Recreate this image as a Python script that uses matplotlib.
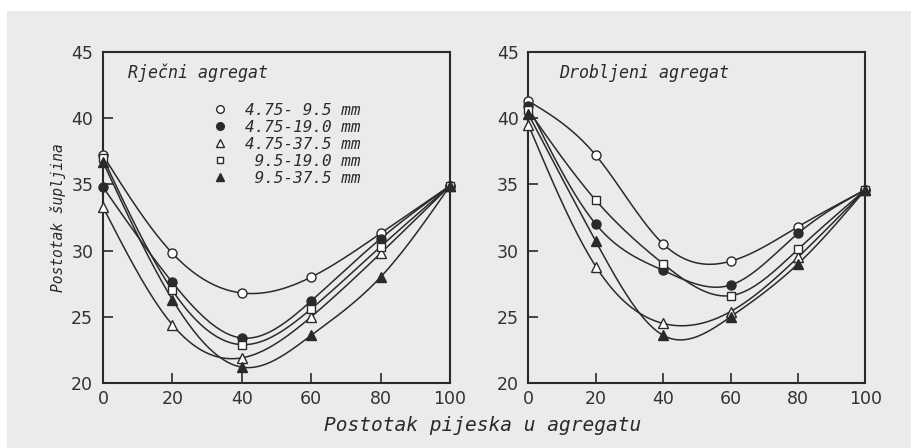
import numpy as np
import matplotlib
matplotlib.use("Agg")
import matplotlib.pyplot as plt
from matplotlib.lines import Line2D
from matplotlib.patches import Rectangle

# ---------------- data ----------------
x_pct = [0, 20, 40, 60, 80, 100]
series_labels = ["4.75- 9.5 mm", "4.75-19.0 mm", "4.75-37.5 mm", " 9.5-19.0 mm", " 9.5-37.5 mm"]
series_markers = ["o", "o", "^", "s", "^"]
series_filled = [False, True, False, False, True]

# Rječni agregat (river aggregate)
river_a = [37.2, 29.8, 26.8, 28.0, 31.3, 34.9]   # 4.75-9.5
river_b = [34.8, 27.6, 23.4, 26.2, 30.9, 34.9]   # 4.75-19.0
river_c = [33.3, 24.4, 21.9, 25.0, 29.8, 34.9]   # 4.75-37.5
river_d = [37.0, 27.0, 22.9, 25.6, 30.3, 34.9]   # 9.5-19.0
river_e = [36.7, 26.3, 21.2, 23.6, 28.0, 34.9]   # 9.5-37.5

# Drobljeni agregat (crushed aggregate)
crush_a = [41.3, 37.2, 30.5, 29.2, 31.8, 34.6]
crush_b = [40.9, 32.0, 28.5, 27.4, 31.3, 34.6]
crush_c = [39.5, 28.8, 24.5, 25.4, 29.5, 34.6]
crush_d = [40.6, 33.8, 29.0, 26.6, 30.1, 34.6]
crush_e = [40.3, 30.7, 23.6, 25.0, 29.0, 34.6]

river = [river_a, river_b, river_c, river_d, river_e]
crushed = [crush_a, crush_b, crush_c, crush_d, crush_e]

x_ticks = [0, 20, 40, 60, 80, 100]
y_ticks = [20, 25, 30, 35, 40, 45]

BG = "#ebebeb"
INK = "#2a2a2a"


def natural_spline(x, y, n=200):
    x = np.asarray(x, float)
    y = np.asarray(y, float)
    m = len(x)
    h = np.diff(x)
    A = np.zeros((m, m))
    r = np.zeros(m)
    A[0, 0] = A[-1, -1] = 1
    for i in range(1, m - 1):
        A[i, i - 1] = h[i - 1]
        A[i, i] = 2 * (h[i - 1] + h[i])
        A[i, i + 1] = h[i]
        r[i] = 3 * ((y[i + 1] - y[i]) / h[i] - (y[i] - y[i - 1]) / h[i - 1])
    c = np.linalg.solve(A, r)
    b = np.zeros(m - 1)
    d = np.zeros(m - 1)
    for i in range(m - 1):
        b[i] = (y[i + 1] - y[i]) / h[i] - h[i] * (2 * c[i] + c[i + 1]) / 3
        d[i] = (c[i + 1] - c[i]) / (3 * h[i])
    xs = np.linspace(x[0], x[-1], n)
    idx = np.clip(np.searchsorted(x, xs, side="right") - 1, 0, m - 2)
    dx = xs - x[idx]
    ys = y[idx] + b[idx] * dx + c[idx] * dx ** 2 + d[idx] * dx ** 3
    return xs, ys


fig = plt.figure(figsize=(9.11, 4.48), dpi=100, facecolor="white")
fig.patches.append(Rectangle((7 / 911, 0), 1, (448 - 11) / 448, transform=fig.transFigure,
                             facecolor=BG, edgecolor="none", zorder=-10))

ax1 = fig.add_axes([0.113, 0.145, 0.381, 0.739])
ax2 = fig.add_axes([0.580, 0.145, 0.370, 0.739])

mono_it = dict(family="DejaVu Sans Mono", style="italic")

for ax, data, title in [(ax1, river, "Rječni agregat"), (ax2, crushed, "Drobljeni agregat")]:
    ax.set_facecolor(BG)
    for vals, mk, filled in zip(data, series_markers, series_filled):
        xs, ys = natural_spline(x_pct, vals)
        ax.plot(xs, ys, color=INK, lw=1.1, zorder=2)
        ax.plot(x_pct, vals, linestyle="none", marker=mk, ms=6.5 if mk != "s" else 6,
                mfc=INK if filled else "white", mec=INK, mew=1.0, zorder=3, clip_on=False)
    ax.set_xlim(0, 100)
    ax.set_ylim(20, 45)
    ax.set_xticks(x_ticks)
    ax.set_yticks(y_ticks)
    ax.tick_params(direction="in", length=7, width=1.2, colors=INK, labelsize=12.5,
                   top=False, right=False)
    ax.tick_params(axis="y", pad=7)
    ax.tick_params(axis="x", pad=5)
    for lab in ax.get_xticklabels() + ax.get_yticklabels():
        lab.set_color("#333333")
    for s in ax.spines.values():
        s.set_linewidth(1.5)
        s.set_color(INK)
    ax.text(7.2 if ax is ax1 else 9, 43.4, title, fontsize=12, color=INK, va="center",
            ha="left", **mono_it)

handles = [Line2D([], [], linestyle="none", marker=mk, ms=5.5 if mk != "s" else 5,
                  mfc=INK if f else "white", mec=INK, mew=1.0)
           for mk, f in zip(series_markers, series_filled)]
leg = ax1.legend(handles, series_labels, loc="upper left", bbox_to_anchor=(0.295, 0.87),
                 frameon=False, handlelength=0.8, handletextpad=1.2, labelspacing=0.12,
                 borderpad=0, prop=dict(family="DejaVu Sans Mono", style="italic", size=11.5))
for t in leg.get_texts():
    t.set_color(INK)

ax1.set_ylabel("Postotak šupljina", fontsize=10.5, color=INK, labelpad=4, **mono_it)
fig.text(0.530, 0.051, "Postotak pijeska u agregatu", fontsize=14, color=INK,
         ha="center", va="center", **mono_it)

fig.savefig("out.png", dpi=100, facecolor=fig.get_facecolor())
